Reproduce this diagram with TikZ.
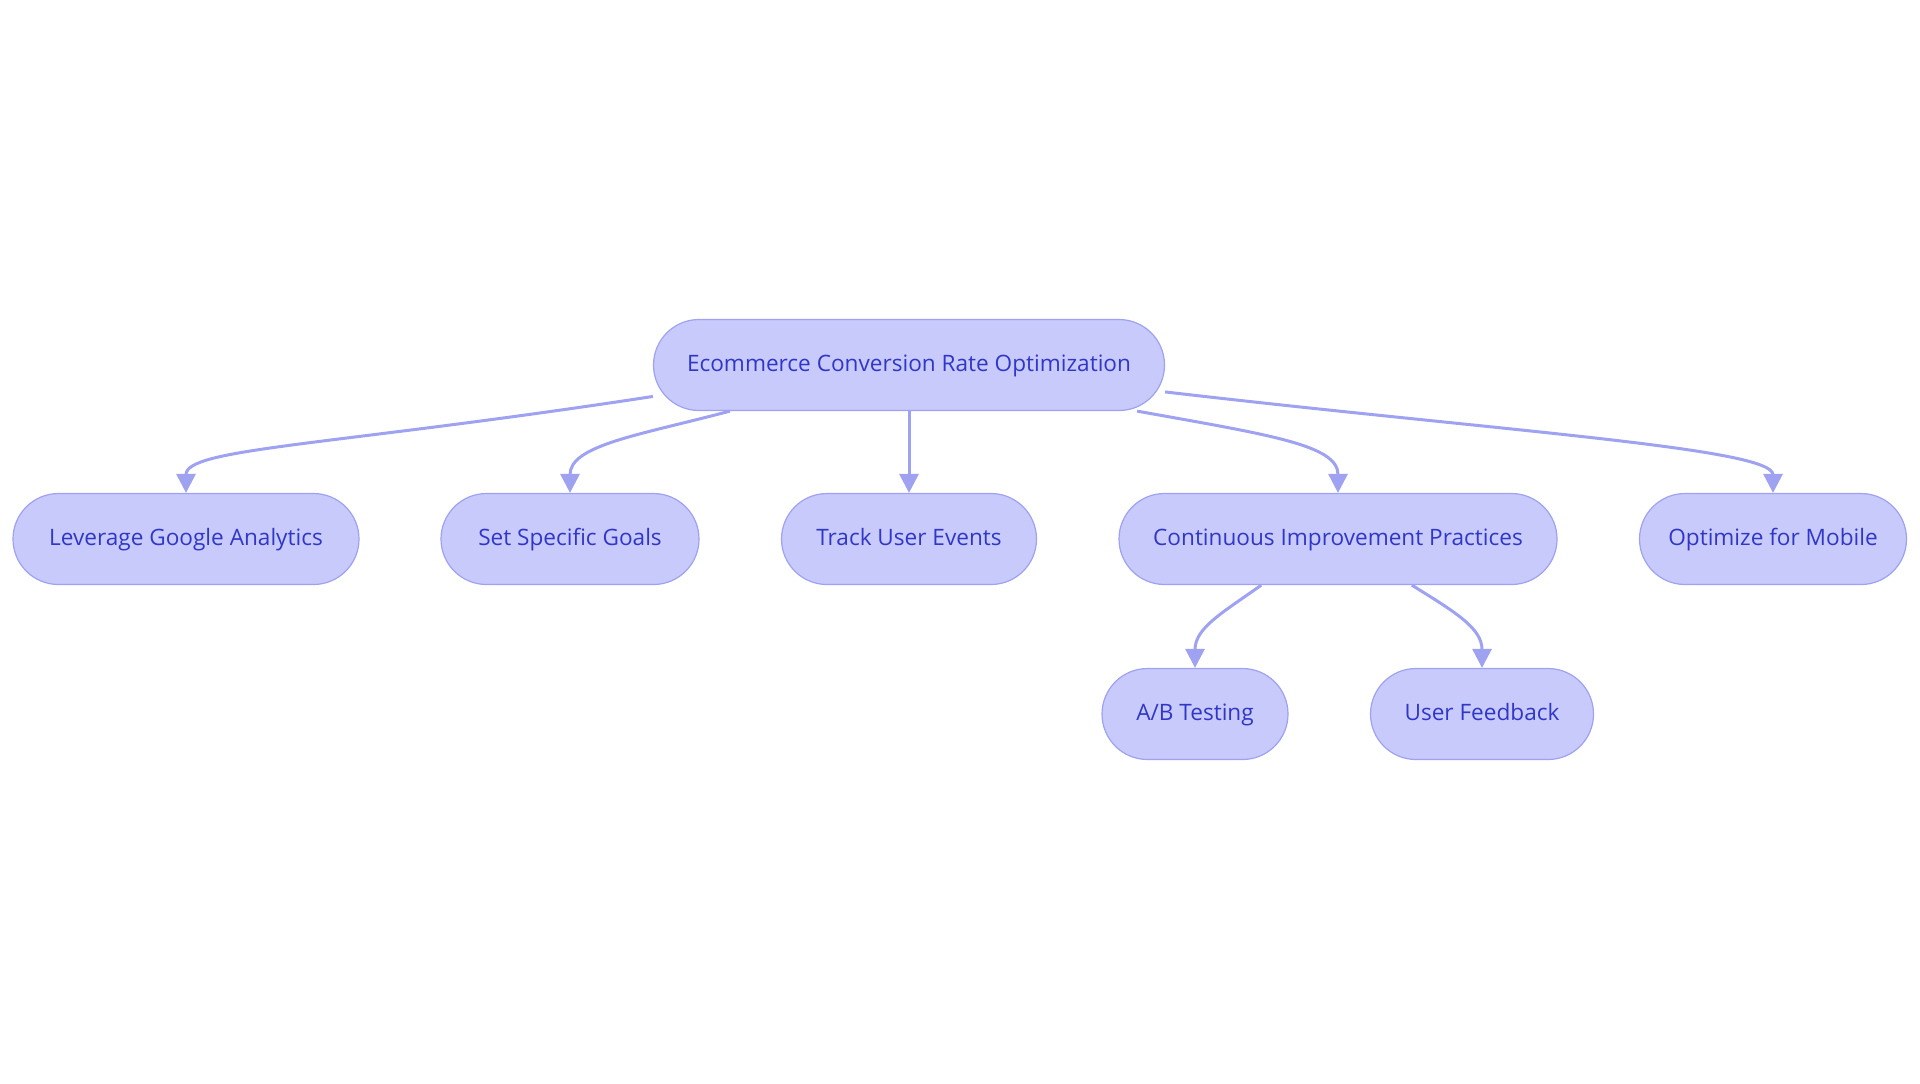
\documentclass[tikz,border=0pt]{standalone}
\usepackage{fontspec}
\setmainfont{Open Sans}
\usepackage{xcolor}
\usetikzlibrary{arrows.meta}

\definecolor{pillfill}{HTML}{C8CAFB}
\definecolor{pilldraw}{HTML}{9EA2F0}
\definecolor{pilltext}{HTML}{3037C8}

\begin{document}
\begin{tikzpicture}[
    x=0.5pt, y=-0.5pt,
    pill/.style={draw=pilldraw, fill=pillfill, line width=0.6pt,
                 rectangle, rounded corners=22.75pt,
                 minimum height=45.5pt, inner sep=0pt,
                 text height=0.76em, text depth=0.16em,
                 text=pilltext, font=\fontsize{11.3}{13}\selectfont},
    link/.style={draw=pilldraw, line width=1.5pt,
                 -{Triangle[length=9.5pt, width=9.5pt]}},
]
\useasboundingbox (0,0) rectangle (1920,1083);
%% Root
\node[pill, minimum width=255.5pt] (cro) at (909,365) {Ecommerce Conversion Rate Optimization};
%% Second row
\node[pill, minimum width=173pt] (ga) at (186,539) {Leverage Google Analytics};
\node[pill, minimum width=129pt] (goals) at (570,539) {Set Specific Goals};
\node[pill, minimum width=127.5pt] (events) at (909,539) {Track User Events};
\node[pill, minimum width=219pt] (cip) at (1338,539) {Continuous Improvement Practices};
\node[pill, minimum width=133.5pt] (mobile) at (1773,539) {Optimize for Mobile};
%% Third row
\node[pill, minimum width=93pt] (ab) at (1195,714) {A/B Testing};
\node[pill, minimum width=111.5pt] (fb) at (1482,714) {User Feedback};
%% Links from root
\draw[link] (cro.187) .. controls (330,446) and (186,448) .. (ga.north);
\draw[link] ([xshift=38.5pt]cro.south west) .. controls (640,435) and (570,445) .. (goals.north);
\draw[link] (cro.south) -- (events.north);
\draw[link] ([xshift=-14pt]cro.south east) .. controls (1270,435) and (1338,445) .. (cip.north);
\draw[link] (cro.354) .. controls (1500,431) and (1773,448) .. (mobile.north);
%% Links from improvement practices
\draw[link] (cip.211.2) .. controls (1222,613) and (1195,628) .. (ab.north);
\draw[link] (cip.328.8) .. controls (1455,612) and (1482,628) .. (fb.north);
\end{tikzpicture}
\end{document}
